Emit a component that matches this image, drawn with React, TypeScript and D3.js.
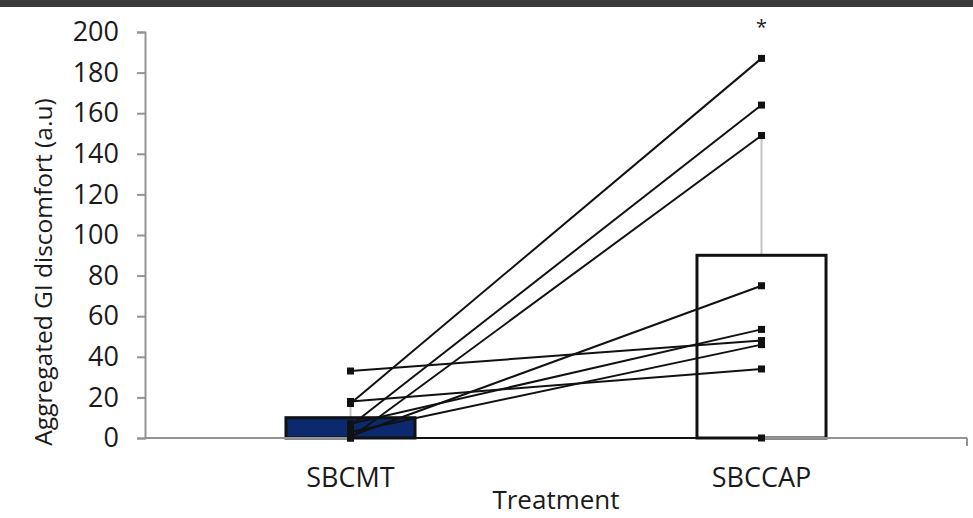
import React, { useEffect, useRef } from "react";
import * as d3 from "d3";

const categories = ["SBCMT", "SBCCAP"];
const barMeans = [10, 90];
const barErrors = [8, 59];
const barColors = ["#0b2a6e", "#ffffff"];

// paired values per subject (SBCMT -> SBCCAP)
const sbcmtValues = [17, 6, 0, 1, 7, 33, 3, 18, 0];
const sbccapValues = [187, 164, 149, 75, 53.5, 48, 46, 34, 0];

const yTicks = [0, 20, 40, 60, 80, 100, 120, 140, 160, 180, 200];

const W = 973;
const H = 518;

export default function App() {
    const ref = useRef<SVGSVGElement>(null);

    useEffect(() => {
        const svg = d3.select(ref.current);
        svg.selectAll("*").remove();

        const margin = { left: 145, right: 6, top: 32, bottom: 80 };
        const font = "'Open Sans', 'Liberation Sans', sans-serif";

        // dark strip on top
        svg.append("rect")
            .attr("x", 0).attr("y", 0)
            .attr("width", W).attr("height", 7)
            .attr("fill", "#3b3b3b");

        const x = d3.scalePoint<string>()
            .domain(categories)
            .range([margin.left, W - margin.right])
            .padding(0.5);

        const y = d3.scaleLinear()
            .domain([0, 200])
            .range([H - margin.bottom, margin.top]);

        const barW = x.step() * 0.314;

        // error bars (upper only)
        svg.selectAll(".err")
            .data(categories)
            .enter()
            .append("line")
            .attr("x1", d => x(d)!)
            .attr("x2", d => x(d)!)
            .attr("y1", (d, i) => y(barMeans[i]))
            .attr("y2", (d, i) => y(barMeans[i] + barErrors[i]))
            .attr("stroke", "#c4c4c4")
            .attr("stroke-width", 2);

        // bars
        svg.selectAll(".bar")
            .data(categories)
            .enter()
            .append("rect")
            .attr("x", d => x(d)! - barW / 2)
            .attr("y", (d, i) => y(barMeans[i]))
            .attr("width", barW)
            .attr("height", (d, i) => y(0) - y(barMeans[i]))
            .attr("fill", (d, i) => barColors[i])
            .attr("stroke", "#111")
            .attr("stroke-width", 3);

        // y axis
        const yAxis = svg.append("g")
            .attr("transform", `translate(${margin.left},0)`)
            .call(d3.axisLeft(y).tickValues(yTicks).tickSize(8).tickPadding(18));
        yAxis.select(".domain").attr("stroke", "#939393").attr("stroke-width", 2);
        yAxis.selectAll(".tick line").attr("stroke", "#939393").attr("stroke-width", 2);
        yAxis.selectAll(".tick text")
            .attr("fill", "#1a1a1a")
            .style("font-family", font)
            .style("font-size", "27px");

        // x axis
        svg.append("line")
            .attr("x1", margin.left).attr("x2", W - margin.right)
            .attr("y1", y(0)).attr("y2", y(0))
            .attr("stroke", "#939393").attr("stroke-width", 2);
        svg.append("line")
            .attr("x1", W - margin.right).attr("x2", W - margin.right)
            .attr("y1", y(0)).attr("y2", y(0) + 8)
            .attr("stroke", "#939393").attr("stroke-width", 2);

        svg.selectAll(".xlab")
            .data(categories)
            .enter()
            .append("text")
            .attr("x", d => x(d)!)
            .attr("y", H - 31)
            .attr("text-anchor", "middle")
            .attr("fill", "#1a1a1a")
            .style("font-family", font)
            .style("font-size", "27px")
            .text(d => d);

        // paired lines
        svg.selectAll(".pair")
            .data(sbcmtValues)
            .enter()
            .append("line")
            .attr("x1", x(categories[0])!)
            .attr("x2", x(categories[1])!)
            .attr("y1", d => y(d))
            .attr("y2", (d, i) => y(sbccapValues[i]))
            .attr("stroke", "#111")
            .attr("stroke-width", 2);

        // markers
        const pts = sbcmtValues.map(v => [categories[0], v] as [string, number])
            .concat(sbccapValues.map(v => [categories[1], v] as [string, number]));
        svg.selectAll(".pt")
            .data(pts)
            .enter()
            .append("rect")
            .attr("x", d => x(d[0])! - 3.5)
            .attr("y", d => y(d[1]) - 3.5)
            .attr("width", 7)
            .attr("height", 7)
            .attr("fill", "#111");

        // significance mark
        svg.append("text")
            .attr("x", x(categories[1])!)
            .attr("y", 34)
            .attr("text-anchor", "middle")
            .attr("fill", "#222")
            .style("font-family", font)
            .style("font-size", "20px")
            .text("*");

        // axis titles
        svg.append("text")
            .attr("x", (margin.left + W - margin.right) / 2)
            .attr("y", H - 9)
            .attr("text-anchor", "middle")
            .attr("fill", "#1a1a1a")
            .style("font-family", font)
            .style("font-size", "26px")
            .text("Treatment");

        svg.append("text")
            .attr("transform", `translate(52, ${(margin.top + H - margin.bottom) / 2 + 37}) rotate(-90)`)
            .attr("text-anchor", "middle")
            .attr("fill", "#1a1a1a")
            .style("font-family", font)
            .style("font-size", "24.5px")
            .text("Aggregated GI discomfort (a.u)");
    }, []);

    return (
        <svg ref={ref} width={W} height={H}
            style={{ position: "fixed", left: 0, top: 0, background: "#fff" }}></svg>
    );
}
